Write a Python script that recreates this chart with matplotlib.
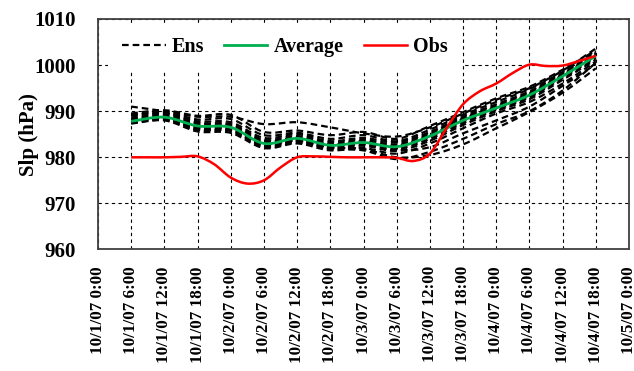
import numpy as np
import matplotlib.pyplot as plt
from matplotlib.path import Path
from matplotlib.patches import PathPatch
from matplotlib.lines import Line2D

plt.rcParams['font.family'] = ['Liberation Serif', 'DejaVu Serif']

# hours after 10/1/07 0:00
tick_hours = list(range(0, 97, 6))
tick_labels = ['10/1/07 0:00', '10/1/07 6:00', '10/1/07 12:00', '10/1/07 18:00',
               '10/2/07 0:00', '10/2/07 6:00', '10/2/07 12:00', '10/2/07 18:00',
               '10/3/07 0:00', '10/3/07 6:00', '10/3/07 12:00', '10/3/07 18:00',
               '10/4/07 0:00', '10/4/07 6:00', '10/4/07 12:00', '10/4/07 18:00',
               '10/5/07 0:00']

model_hours = [6, 12, 18, 24, 30, 36, 42, 48, 54, 60, 66, 72, 78, 84, 90]

ens_members = [
    [991.0, 990.0, 988.8, 988.8, 987.2, 987.6, 986.5, 985.2, 984.5, 986.5, 989.5, 992.5, 995.0, 998.8, 1003.6],
    [989.5, 990.2, 989.0, 989.2, 985.5, 985.8, 984.8, 985.5, 984.0, 986.8, 989.8, 992.8, 995.3, 999.0, 1003.2],
    [989.0, 989.8, 988.2, 988.3, 984.8, 985.3, 984.0, 984.8, 983.5, 986.0, 989.2, 992.0, 994.8, 998.5, 1003.0],
    [988.6, 989.5, 987.8, 987.6, 984.2, 985.0, 983.5, 984.2, 983.2, 985.5, 988.8, 991.5, 994.3, 998.2, 1002.7],
    [988.3, 989.2, 987.3, 987.2, 983.8, 984.6, 983.2, 983.8, 982.8, 985.2, 988.5, 991.2, 994.0, 998.0, 1002.5],
    [988.0, 988.9, 987.0, 986.8, 983.3, 984.3, 982.8, 983.5, 982.5, 984.8, 988.3, 990.9, 993.8, 997.8, 1002.2],
    [987.8, 988.6, 986.6, 986.3, 982.9, 984.0, 982.5, 983.2, 982.2, 984.5, 987.8, 990.6, 993.3, 997.5, 1001.9],
    [987.5, 988.3, 986.3, 986.0, 982.6, 983.7, 982.2, 982.8, 981.8, 984.0, 987.4, 990.3, 993.0, 997.2, 1001.6],
    [987.4, 988.1, 986.0, 985.7, 982.3, 983.5, 981.9, 982.5, 981.4, 983.6, 987.0, 990.0, 992.6, 996.8, 1001.2],
    [987.3, 988.0, 985.6, 985.3, 982.0, 983.0, 981.5, 982.0, 980.8, 983.0, 986.3, 989.5, 992.0, 996.0, 1000.8],
    [988.0, 988.4, 986.0, 985.8, 982.5, 983.2, 981.8, 981.5, 979.6, 981.2, 984.0, 987.2, 990.0, 994.5, 1000.5],
    [988.2, 988.5, 986.4, 986.2, 983.0, 983.6, 982.2, 981.8, 980.0, 980.5, 982.8, 986.3, 989.8, 994.0, 999.3],
    [989.2, 989.6, 987.5, 987.0, 983.5, 984.2, 982.8, 983.0, 981.5, 982.2, 985.2, 988.0, 991.0, 995.5, 1000.2],
]

average = [987.8, 988.7, 986.8, 986.5, 983.0, 984.1, 982.6, 983.2, 982.3, 984.6, 988.0, 990.7, 993.5, 997.6, 1002.0]

obs_hours = [6, 9, 12, 15, 18, 21, 24, 27, 30, 33, 36, 39, 42, 45, 48, 51, 54, 57,
             60, 63, 66, 69, 72, 75, 78, 81, 84, 87, 90]
obs = [980.0, 980.0, 980.0, 980.1, 980.2, 978.5, 975.6, 974.3, 975.0, 977.8, 980.0,
       980.2, 980.1, 980.0, 980.0, 980.0, 979.9, 979.2, 980.8, 986.3, 991.5, 994.3,
       996.0, 998.3, 1000.1, 999.8, 999.9, 1000.9, 1002.0]


def smooth_path(x, y):
    # bezier segments through every point, like a "smoothed line" in a spreadsheet
    x = np.asarray(x, float)
    y = np.asarray(y, float)
    n = len(x)
    verts = [(x[0], y[0])]
    codes = [Path.MOVETO]
    for i in range(n - 1):
        i0 = max(i - 1, 0)
        i3 = min(i + 2, n - 1)
        c1 = (x[i] + (x[i + 1] - x[i0]) / 6, y[i] + (y[i + 1] - y[i0]) / 6)
        c2 = (x[i + 1] - (x[i3] - x[i]) / 6, y[i + 1] - (y[i3] - y[i]) / 6)
        verts += [c1, c2, (x[i + 1], y[i + 1])]
        codes += [Path.CURVE4] * 3
    return Path(verts, codes)


fig = plt.figure(figsize=(6.34, 3.71), dpi=100)
ax = fig.add_axes([0.1546, 0.3275, 0.8375, 0.6213])

ens_style = (0, (3.0, 1.8))
for m in ens_members:
    ax.add_patch(PathPatch(smooth_path(model_hours, m), fill=False, color='black',
                           lw=1.6, linestyle=ens_style, zorder=3))
ax.add_patch(PathPatch(smooth_path(model_hours, average), fill=False,
                       color='#00B050', lw=2.0, zorder=4))
ax.add_patch(PathPatch(smooth_path(obs_hours, obs), fill=False,
                       color='#FF0000', lw=1.8, zorder=5))

ax.set_xlim(0, 96)
ax.set_ylim(960, 1010)
ax.set_xticks(tick_hours)
ax.set_xticklabels(tick_labels, rotation=90, fontsize=12.3, fontweight='bold')
ax.set_yticks(range(960, 1011, 10))
ax.set_yticklabels([str(v) for v in range(960, 1011, 10)], fontsize=15,
                   fontweight='bold')
ax.tick_params(length=0)
ax.tick_params(axis='x', pad=12)
ax.tick_params(axis='y', pad=16)
ax.grid(True, color='black', lw=0.8, linestyle=(0, (3, 3)))
ax.set_axisbelow(True)
for s in ax.spines.values():
    s.set_color('#404040')
    s.set_linewidth(1.3)

ax.set_ylabel('Slp (hPa)', fontsize=15, fontweight='bold')
ax.yaxis.set_label_coords(-0.112, 0.5)

handles = [Line2D([], [], color='black', lw=1.6, linestyle=ens_style),
           Line2D([], [], color='#00B050', lw=2.0),
           Line2D([], [], color='#FF0000', lw=1.8)]
leg = ax.legend(handles, ['Ens', 'Average', 'Obs'], ncol=3, loc='upper left',
                bbox_to_anchor=(0.019, 0.983), borderaxespad=0, frameon=True,
                fancybox=False, borderpad=0.7, handlelength=2.15,
                handletextpad=0.3, columnspacing=1.0,
                prop={'size': 14.5, 'weight': 'bold'})
leg.get_frame().set_edgecolor('none')
leg.get_frame().set_facecolor('white')
leg.get_frame().set_alpha(1)

fig.savefig('out.png', dpi=100)
